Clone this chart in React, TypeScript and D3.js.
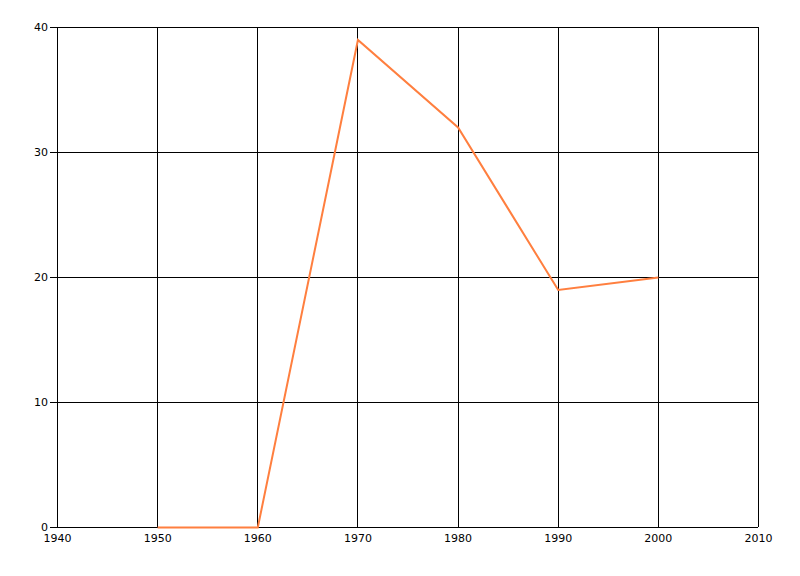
import React, { useEffect, useRef } from 'react';
import * as d3 from 'd3';

const years = [1950, 1960, 1970, 1980, 1990, 2000];
const values = [0, 0, 39, 32, 19, 20];
const xTicks = [1940, 1950, 1960, 1970, 1980, 1990, 2000, 2010];
const yTicks = [0, 10, 20, 30, 40];

const App: React.FC = () => {
  const svgRef = useRef<SVGSVGElement>(null);

  useEffect(() => {
    if (!svgRef.current) return;
    const width = 800;
    const height = 576;
    const margin = { top: 27, right: 42, bottom: 49, left: 57 };

    d3.select(svgRef.current).selectAll('*').remove();
    const svg = d3.select(svgRef.current).attr('width', width).attr('height', height);

    const x = d3.scaleLinear().domain([1940, 2010]).range([margin.left, width - margin.right]);
    const y = d3.scaleLinear().domain([0, 40]).range([height - margin.bottom, margin.top]);

    const font = 'Tahoma, "DejaVu Sans", sans-serif';

    // Grid
    const grid = svg.append('g').attr('stroke', '#000').attr('stroke-width', 1).attr('shape-rendering', 'crispEdges');
    grid.selectAll('line.v')
      .data(xTicks)
      .enter()
      .append('line')
      .attr('x1', d => x(d) + 0.5)
      .attr('x2', d => x(d) + 0.5)
      .attr('y1', y(40))
      .attr('y2', y(0));
    grid.selectAll('line.h')
      .data(yTicks)
      .enter()
      .append('line')
      .attr('x1', x(1940) - 7)
      .attr('x2', x(2010))
      .attr('y1', d => y(d) + 0.5)
      .attr('y2', d => y(d) + 0.5);

    // Y labels
    svg.append('g')
      .selectAll('text')
      .data(yTicks)
      .enter()
      .append('text')
      .attr('x', x(1940) - 9)
      .attr('y', d => y(d))
      .attr('dy', '0.35em')
      .attr('text-anchor', 'end')
      .attr('font-family', font)
      .attr('font-size', 11)
      .attr('fill', '#000')
      .text(d => d);

    // X labels
    svg.append('g')
      .selectAll('text')
      .data(xTicks)
      .enter()
      .append('text')
      .attr('x', d => x(d) + 0.5)
      .attr('y', y(0) + 15)
      .attr('text-anchor', 'middle')
      .attr('font-family', font)
      .attr('font-size', 11)
      .attr('fill', '#000')
      .text(d => d);

    // Line
    const line = d3.line<number>()
      .x((_, i) => x(years[i]) + 0.5)
      .y(d => y(d) + 0.5);

    svg.append('path')
      .datum(values)
      .attr('d', line)
      .attr('fill', 'none')
      .attr('stroke', '#FF7F3F')
      .attr('stroke-width', 2);
  }, []);

  return <svg ref={svgRef} style={{ display: 'block', position: 'absolute', left: 0, top: 0, background: '#fff' }} />;
};

export default App;
